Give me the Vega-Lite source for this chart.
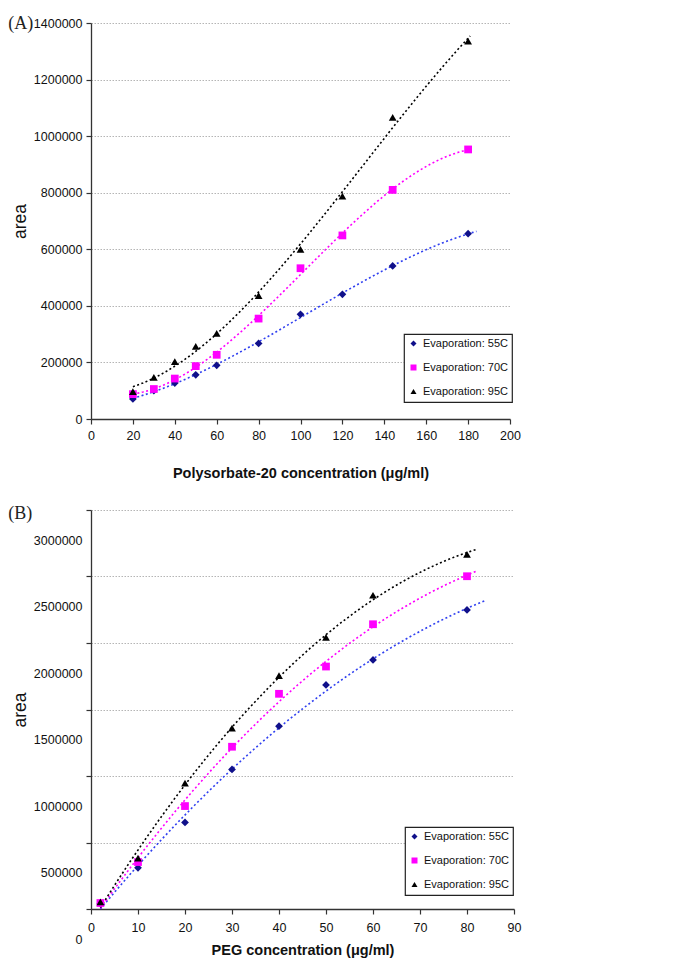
{
  "$schema": "https://vega.github.io/schema/vega-lite/v6.json",
  "padding": {"left": 8, "top": 15, "right": 5, "bottom": 1},
  "spacing": 25,
  "datasets": {
    "polysorbate": [
      {"series": "Evaporation: 55C", "conc": 20, "area": 71000},
      {"series": "Evaporation: 55C", "conc": 30, "area": 100000},
      {"series": "Evaporation: 55C", "conc": 40, "area": 127000},
      {"series": "Evaporation: 55C", "conc": 50, "area": 156000},
      {"series": "Evaporation: 55C", "conc": 60, "area": 190000},
      {"series": "Evaporation: 55C", "conc": 80, "area": 267000},
      {"series": "Evaporation: 55C", "conc": 100, "area": 370000},
      {"series": "Evaporation: 55C", "conc": 120, "area": 441000},
      {"series": "Evaporation: 55C", "conc": 144, "area": 541000},
      {"series": "Evaporation: 55C", "conc": 180, "area": 655000},
      {"series": "Evaporation: 70C", "conc": 20, "area": 88000},
      {"series": "Evaporation: 70C", "conc": 30, "area": 106000},
      {"series": "Evaporation: 70C", "conc": 40, "area": 143000},
      {"series": "Evaporation: 70C", "conc": 50, "area": 187000},
      {"series": "Evaporation: 70C", "conc": 60, "area": 227000},
      {"series": "Evaporation: 70C", "conc": 80, "area": 355000},
      {"series": "Evaporation: 70C", "conc": 100, "area": 533000},
      {"series": "Evaporation: 70C", "conc": 120, "area": 649000},
      {"series": "Evaporation: 70C", "conc": 144, "area": 810000},
      {"series": "Evaporation: 70C", "conc": 180, "area": 953000},
      {"series": "Evaporation: 95C", "conc": 20, "area": 97000},
      {"series": "Evaporation: 95C", "conc": 30, "area": 147000},
      {"series": "Evaporation: 95C", "conc": 40, "area": 203000},
      {"series": "Evaporation: 95C", "conc": 50, "area": 257000},
      {"series": "Evaporation: 95C", "conc": 60, "area": 303000},
      {"series": "Evaporation: 95C", "conc": 80, "area": 436000},
      {"series": "Evaporation: 95C", "conc": 100, "area": 600000},
      {"series": "Evaporation: 95C", "conc": 120, "area": 788000},
      {"series": "Evaporation: 95C", "conc": 144, "area": 1066000},
      {"series": "Evaporation: 95C", "conc": 180, "area": 1336000}
    ],
    "peg": [
      {"series": "Evaporation: 55C", "conc": 2, "area": 40000},
      {"series": "Evaporation: 55C", "conc": 10, "area": 310000},
      {"series": "Evaporation: 55C", "conc": 20, "area": 651000},
      {"series": "Evaporation: 55C", "conc": 30, "area": 1049000},
      {"series": "Evaporation: 55C", "conc": 40, "area": 1375000},
      {"series": "Evaporation: 55C", "conc": 50, "area": 1685000},
      {"series": "Evaporation: 55C", "conc": 60, "area": 1873000},
      {"series": "Evaporation: 55C", "conc": 80, "area": 2249000},
      {"series": "Evaporation: 70C", "conc": 2, "area": 45000},
      {"series": "Evaporation: 70C", "conc": 10, "area": 353000},
      {"series": "Evaporation: 70C", "conc": 20, "area": 774000},
      {"series": "Evaporation: 70C", "conc": 30, "area": 1220000},
      {"series": "Evaporation: 70C", "conc": 40, "area": 1618000},
      {"series": "Evaporation: 70C", "conc": 50, "area": 1823000},
      {"series": "Evaporation: 70C", "conc": 60, "area": 2141000},
      {"series": "Evaporation: 70C", "conc": 80, "area": 2502000},
      {"series": "Evaporation: 95C", "conc": 2, "area": 53000},
      {"series": "Evaporation: 95C", "conc": 10, "area": 383000},
      {"series": "Evaporation: 95C", "conc": 20, "area": 947000},
      {"series": "Evaporation: 95C", "conc": 30, "area": 1360000},
      {"series": "Evaporation: 95C", "conc": 40, "area": 1755000},
      {"series": "Evaporation: 95C", "conc": 50, "area": 2043000},
      {"series": "Evaporation: 95C", "conc": 60, "area": 2359000},
      {"series": "Evaporation: 95C", "conc": 80, "area": 2667000}
    ]
  },
  "vconcat": [
    {
      "width": 419,
      "height": 396,
      "title": {"text": "(A)", "anchor": "start", "frame": "bounds", "font": "Liberation Serif", "fontSize": 18, "fontWeight": "normal", "color": "#222", "offset": 0, "dy": 16, "dx": -3},
      "data": {"name": "polysorbate"},
      "encoding": {
        "x": {"field": "conc", "type": "quantitative", "scale": {"domain": [0, 200], "nice": false},
              "axis": {"values": [0, 20, 40, 60, 80, 100, 120, 140, 160, 180, 200], "title": "Polysorbate-20 concentration (μg/ml)", "grid": false, "labelPadding": 5, "titlePadding": 25}},
        "y": {"field": "area", "type": "quantitative", "scale": {"domain": [0, 1400000], "nice": false},
              "axis": {"values": [0, 200000, 400000, 600000, 800000, 1000000, 1200000, 1400000], "format": "d", "title": "area"}}
      },
      "layer": [
        {"transform": [{"filter": "datum.series === 'Evaporation: 55C'"}, {"regression": "area", "on": "conc", "method": "poly", "order": 3, "extent": [20, 184]}],
         "mark": {"type": "line", "color": "#3040f0", "strokeDash": [2, 2.5], "strokeWidth": 1.6}},
        {"transform": [{"filter": "datum.series === 'Evaporation: 70C'"}, {"regression": "area", "on": "conc", "method": "poly", "order": 3, "extent": [20, 181]}],
         "mark": {"type": "line", "color": "#ff00ff", "strokeDash": [2, 2.5], "strokeWidth": 1.6}},
        {"transform": [{"filter": "datum.series === 'Evaporation: 95C'"}, {"regression": "area", "on": "conc", "method": "poly", "order": 3, "extent": [20, 181]}],
         "mark": {"type": "line", "color": "#000000", "strokeDash": [2, 2.5], "strokeWidth": 1.6}},
        {"mark": {"type": "point", "filled": true, "opacity": 1, "size": 60},
         "encoding": {
           "color": {"field": "series", "type": "nominal", "scale": {"domain": ["Evaporation: 55C", "Evaporation: 70C", "Evaporation: 95C"], "range": ["#10108a", "#ff00ff", "#000000"]},
                     "legend": {"orient": "none", "legendX": 313, "legendY": 311}},
           "shape": {"field": "series", "type": "nominal", "scale": {"domain": ["Evaporation: 55C", "Evaporation: 70C", "Evaporation: 95C"], "range": ["diamond", "square", "triangle-up"]},
                     "legend": {"orient": "none", "legendX": 313, "legendY": 311}}
         }}
      ]
    },
    {
      "width": 423,
      "height": 399,
      "title": {"text": "(B)", "anchor": "start", "frame": "bounds", "font": "Liberation Serif", "fontSize": 18, "fontWeight": "normal", "color": "#222", "offset": 0, "dy": 14, "dx": -3},
      "data": {"name": "peg"},
      "encoding": {
        "x": {"field": "conc", "type": "quantitative", "scale": {"domain": [0, 90], "nice": false},
              "axis": {"values": [0, 10, 20, 30, 40, 50, 60, 70, 80, 90], "title": "PEG concentration (μg/ml)", "grid": false, "labelPadding": 7, "titlePadding": 10}},
        "y": {"field": "area", "type": "quantitative", "scale": {"domain": [0, 3000000], "nice": false},
              "axis": {"values": [0, 500000, 1000000, 1500000, 2000000, 2500000, 3000000], "format": "d", "title": "area", "labelOffset": 30}}
      },
      "layer": [
        {"transform": [{"filter": "datum.series === 'Evaporation: 55C'"}, {"regression": "area", "on": "conc", "method": "poly", "order": 2, "extent": [2, 84]}],
         "mark": {"type": "line", "color": "#3040f0", "strokeDash": [2, 2.5], "strokeWidth": 1.6}},
        {"transform": [{"filter": "datum.series === 'Evaporation: 70C'"}, {"regression": "area", "on": "conc", "method": "poly", "order": 2, "extent": [2, 82]}],
         "mark": {"type": "line", "color": "#ff00ff", "strokeDash": [2, 2.5], "strokeWidth": 1.6}},
        {"transform": [{"filter": "datum.series === 'Evaporation: 95C'"}, {"regression": "area", "on": "conc", "method": "poly", "order": 2, "extent": [2, 82]}],
         "mark": {"type": "line", "color": "#000000", "strokeDash": [2, 2.5], "strokeWidth": 1.6}},
        {"mark": {"type": "point", "filled": true, "opacity": 1, "size": 60},
         "encoding": {
           "color": {"field": "series", "type": "nominal", "scale": {"domain": ["Evaporation: 55C", "Evaporation: 70C", "Evaporation: 95C"], "range": ["#10108a", "#ff00ff", "#000000"]},
                     "legend": {"orient": "none", "legendX": 314, "legendY": 317}},
           "shape": {"field": "series", "type": "nominal", "scale": {"domain": ["Evaporation: 55C", "Evaporation: 70C", "Evaporation: 95C"], "range": ["diamond", "square", "triangle-up"]},
                     "legend": {"orient": "none", "legendX": 314, "legendY": 317}}
         }}
      ]
    }
  ],
  "resolve": {"scale": {"color": "independent", "shape": "independent"}, "legend": {"color": "independent", "shape": "independent"}},
  "config": {
    "view": {"stroke": null},
    "font": "Liberation Sans, Arial, sans-serif",
    "axis": {
      "domainColor": "#333333",
      "domainWidth": 1.3,
      "tickColor": "#333333",
      "tickWidth": 1.2,
      "tickSize": 5,
      "labelFont": "Liberation Sans, Arial, sans-serif",
      "labelFontSize": 12.5,
      "labelColor": "#111111",
      "labelPadding": 4,
      "labelFlush": false,
      "labelOverlap": false,
      "titleFont": "Liberation Sans, Arial, sans-serif",
      "titleColor": "#111111"
    },
    "axisY": {
      "gridColor": "#b5b5b5",
      "gridDash": [1.5, 1.5],
      "gridWidth": 1,
      "titleFontSize": 17.5,
      "titleFontWeight": "normal",
      "titlePadding": 4
    },
    "axisX": {
      "titleFontSize": 14.5,
      "titleFontWeight": "bold"
    },
    "legend": {
      "title": null,
      "strokeColor": "#222222",
      "strokeWidth": 1.2,
      "padding": 4,
      "labelFont": "Liberation Sans, Arial, sans-serif",
      "labelFontSize": 11,
      "labelColor": "#111111",
      "symbolSize": 36,
      "rowPadding": 11,
      "symbolOpacity": 1,
      "labelOffset": 4,
      "fillColor": "white"
    }
  }
}
